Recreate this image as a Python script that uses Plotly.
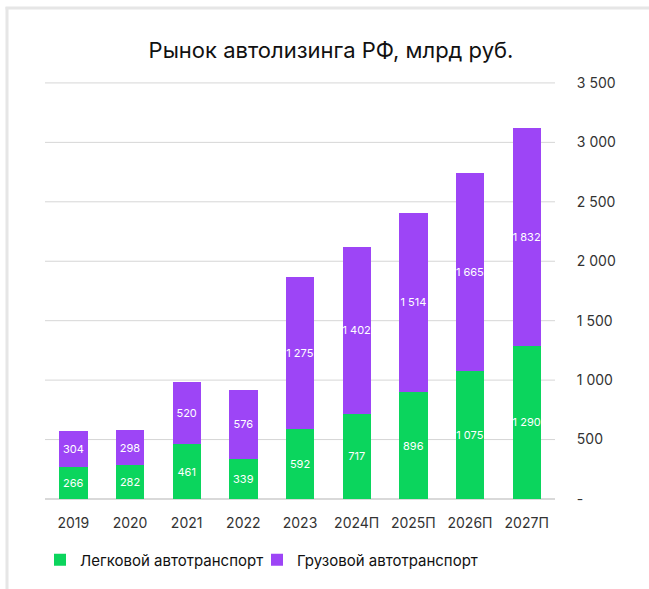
import plotly.graph_objects as go

categories = ["2019", "2020", "2021", "2022", "2023", "2024П", "2025П", "2026П", "2027П"]
passenger = [266, 282, 461, 339, 592, 717, 896, 1075, 1290]
cargo = [304, 298, 520, 576, 1275, 1402, 1514, 1665, 1832]
tick_vals = [0, 500, 1000, 1500, 2000, 2500, 3000, 3500]
tick_text = ["-", "500", "1 000", "1 500", "2 000", "2 500", "3 000", "3 500"]

GREEN = "#0bd55d"
PURPLE = "#9d45f6"
FONT = "Inter"


def fmt(v):
    return f"{v:,}".replace(",", " ")


fig = go.Figure()
fig.add_trace(go.Bar(
    x=categories, y=passenger, name="Легковой автотранспорт", legend="legend", showlegend=True,
    marker=dict(color=GREEN, line=dict(width=0)),
    text=[fmt(v) for v in passenger], textposition="inside",
    insidetextanchor="middle", textangle=0,
    textfont=dict(color="white", size=11, family=FONT),
))
fig.add_trace(go.Bar(
    x=categories, y=cargo, name="Грузовой автотранспорт", legend="legend2", showlegend=True,
    marker=dict(color=PURPLE, line=dict(width=0)),
    text=[fmt(v) for v in cargo], textposition="inside",
    insidetextanchor="middle", textangle=0,
    textfont=dict(color="white", size=11, family=FONT),
))

# plot area in px: x 45..555, y 79..499 (3500 at y=83)
L, R, T, B = 45, 94, 79, 90
W, H = 649, 589
pw, ph = W - L - R, H - T - B


def px_x(x):
    return (x - L) / pw


def px_y(y):
    return (H - B - y) / ph


shapes = [
    dict(type="line", xref="paper", yref="paper", x0=px_x(7), x1=px_x(7), y0=px_y(7), y1=px_y(600),
         line=dict(color="#e6e6e6", width=3)),
    dict(type="line", xref="paper", yref="paper", x0=px_x(5.5), x1=px_x(660), y0=px_y(8), y1=px_y(8),
         line=dict(color="#e6e6e6", width=3)),
]
# horizontal gridlines at the tick values (drawn below the bars)
for tv in tick_vals[1:]:
    shapes.append(dict(type="line", xref="paper", yref="y", x0=0, x1=1, y0=tv, y1=tv,
                       layer="below", line=dict(color="#d6d6d6", width=1)))

legend_style = dict(orientation="h", yanchor="middle", xanchor="left",
                    font=dict(size=15, color="#111111"), itemwidth=30,
                    bgcolor="rgba(0,0,0,0)")

fig.update_layout(
    showlegend=True,
    barmode="stack",
    bargap=0.5,
    width=W, height=H,
    margin=dict(l=L, r=R, t=T, b=B),
    paper_bgcolor="white", plot_bgcolor="white",
    font=dict(family=FONT, color="#333333"),
    title=dict(text="Рынок автолизинга РФ, млрд руб.", x=331 / W, xref="container", xanchor="center",
               y=1 - 50 / H, yref="container", yanchor="middle",
               font=dict(size=22, color="#111111", family=FONT)),
    xaxis=dict(showgrid=False, ticks="outside", ticklen=11, tickcolor="rgba(0,0,0,0)",
               tickfont=dict(size=14, color="#333333"), showline=False),
    yaxis=dict(side="right", range=[0, 3533], tickvals=tick_vals, ticktext=tick_text,
               showgrid=False,
               zeroline=True, zerolinecolor="#d9d9d9", zerolinewidth=2,
               ticks="outside", ticklen=18, tickcolor="rgba(0,0,0,0)",
               tickfont=dict(size=14, color="#333333")),
    legend=dict(x=px_x(40), y=px_y(560), **legend_style),
    legend2=dict(x=px_x(257), y=px_y(560), **legend_style),
    uniformtext=dict(minsize=10, mode="show"),
    shapes=shapes,
)

fig.write_html("out.html")
